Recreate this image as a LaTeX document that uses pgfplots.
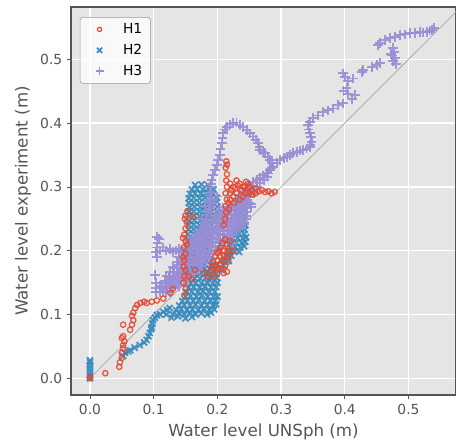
\documentclass[border=0pt]{standalone}
\usepackage{fontspec}
\setmainfont{DejaVu Sans}
\usepackage{pgfplots}
\pgfplotsset{compat=1.18}
\definecolor{panel}{HTML}{E5E5E5}
\definecolor{tickgray}{HTML}{555555}
\definecolor{hone}{HTML}{E24A33}
\definecolor{htwo}{HTML}{348ABD}
\definecolor{hthree}{HTML}{988ED5}
\tikzset{
  hOne/.style={only marks,mark=o,mark size=2pt,hone,line width=1pt,opacity=0.9},
  hTwo/.style={only marks,mark=x,mark size=3.2pt,htwo,line width=1.35pt,opacity=0.9},
  hThree/.style={only marks,mark=+,mark size=3.6pt,hthree,line width=1.4pt,opacity=0.9},
}

\begin{document}
\begin{tikzpicture}
\useasboundingbox (-53.25pt,-36pt) rectangle (288.75pt,296.25pt);
\begin{axis}[
  scale only axis, width=288.75pt, height=291pt,
  at={(0,0)}, anchor=south west,
  xmin=-0.0298, xmax=0.5746, ymin=-0.0262, ymax=0.582,
  xtick={0,0.1,0.2,0.3,0.4,0.5}, ytick={0,0.1,0.2,0.3,0.4,0.5},
  xtick pos=bottom, ytick pos=left,
  tick align=outside, major tick length=3pt,
  axis background/.style={fill=panel},
  grid=major, major grid style={white,line width=1pt},
  axis line style={tickgray,line width=0.8pt},
  tick style={tickgray,line width=0.6pt},
  /pgf/number format/.cd, fixed, fixed zerofill, precision=1, assume math mode=true, /pgfplots/.cd,
  ticklabel style={font=\fontsize{10.4}{12}\selectfont,text=tickgray},
  label style={font=\fontsize{12.5}{15}\selectfont,text=tickgray},
  xlabel={Water level UNSph (m)}, ylabel={Water level experiment (m)},
  legend image code/.code={\path (0pt,0pt) (25pt,0pt); \draw[#1] plot coordinates {(10pt,0pt)};},
  legend style={at={(0.023,0.974)},anchor=north west,fill=white,fill opacity=0.8,text opacity=1,
    draw=gray!80,rounded corners=2pt,font=\fontsize{10.4}{12.5}\selectfont,
    row sep=2.5pt,inner xsep=4pt,inner ysep=2.5pt,nodes={inner sep=2pt}},
  legend cell align=left,
]
\addlegendimage{only marks,mark=o,mark size=1.6pt,hone,line width=0.9pt}
\addlegendentry{H1}
\addlegendimage{only marks,mark=x,mark size=2.8pt,htwo,line width=1.2pt}
\addlegendentry{H2}
\addlegendimage{only marks,mark=+,mark size=3pt,hthree,line width=1.2pt}
\addlegendentry{H3}

\addplot[gray!75,line width=0.5pt,forget plot] coordinates {(0,0)(0.6,0.6)};

% H2
\addplot[hTwo,forget plot] coordinates {
(0,0)(0,0.005)(0,0.01)(0,0.015)(0,0.02)(0,0.025)(0,0.028)
(0.052,0.035)(0.055,0.04)(0.06,0.042)(0.063,0.044)(0.07,0.048)(0.078,0.052)(0.085,0.056)
(0.089,0.06)(0.092,0.066)(0.094,0.071)(0.096,0.077)(0.097,0.08)(0.098,0.086)(0.099,0.091)
(0.102,0.095)(0.105,0.099)(0.11,0.1)(0.115,0.104)(0.121,0.107)(0.125,0.11)(0.12,0.1)
(0.128,0.095)(0.138,0.097)(0.15,0.094)(0.16,0.096)
(0.13,0.1)(0.14,0.102)(0.148,0.1)(0.157,0.103)(0.166,0.1)(0.175,0.102)(0.184,0.1)(0.19,0.103)
(0.135,0.107)(0.143,0.109)(0.152,0.107)(0.161,0.108)(0.17,0.107)(0.179,0.109)(0.188,0.107)(0.195,0.108)
(0.14,0.114)(0.148,0.115)(0.157,0.114)(0.166,0.116)(0.175,0.114)(0.184,0.115)(0.193,0.114)(0.198,0.116)
(0.145,0.121)(0.153,0.122)(0.162,0.121)(0.171,0.123)(0.18,0.121)(0.189,0.122)(0.197,0.121)
(0.15,0.128)(0.158,0.129)(0.167,0.128)(0.176,0.13)(0.185,0.128)(0.194,0.129)(0.2,0.128)
(0.152,0.135)(0.16,0.136)(0.169,0.135)(0.178,0.137)(0.187,0.135)(0.196,0.136)
(0.155,0.142)(0.163,0.143)(0.172,0.142)(0.181,0.144)(0.19,0.142)(0.198,0.143)
(0.158,0.149)(0.166,0.15)(0.175,0.149)(0.184,0.151)(0.193,0.149)(0.2,0.15)
(0.156,0.156)(0.164,0.157)(0.173,0.156)(0.182,0.158)(0.191,0.156)(0.199,0.157)
(0.155,0.163)(0.163,0.164)(0.172,0.163)(0.181,0.165)(0.19,0.163)(0.198,0.164)
(0.154,0.17)(0.162,0.171)(0.171,0.17)(0.18,0.172)(0.189,0.17)(0.198,0.171)(0.206,0.17)
(0.155,0.177)(0.163,0.178)(0.172,0.177)(0.181,0.179)(0.19,0.177)(0.2,0.178)(0.21,0.177)
(0.156,0.184)(0.164,0.185)(0.173,0.184)(0.182,0.186)(0.19,0.184)(0.21,0.185)(0.218,0.184)
(0.155,0.191)(0.163,0.192)(0.172,0.191)(0.181,0.193)(0.215,0.191)(0.222,0.192)
(0.154,0.198)(0.162,0.199)(0.171,0.198)(0.18,0.2)(0.218,0.198)(0.226,0.199)(0.234,0.198)
(0.155,0.205)(0.163,0.206)(0.172,0.205)(0.181,0.207)(0.22,0.205)(0.228,0.206)(0.236,0.205)(0.242,0.207)
(0.156,0.212)(0.164,0.213)(0.173,0.212)(0.182,0.214)(0.222,0.212)(0.23,0.213)(0.238,0.212)(0.244,0.214)
(0.155,0.219)(0.163,0.22)(0.172,0.219)(0.181,0.221)(0.19,0.219)(0.224,0.219)(0.232,0.22)(0.24,0.219)(0.245,0.221)
(0.154,0.226)(0.162,0.227)(0.171,0.226)(0.18,0.228)(0.189,0.226)(0.226,0.226)(0.234,0.227)(0.242,0.226)
(0.155,0.233)(0.163,0.234)(0.172,0.233)(0.181,0.235)(0.19,0.233)(0.228,0.233)(0.236,0.234)(0.243,0.233)
(0.155,0.24)(0.163,0.241)(0.172,0.24)(0.181,0.242)(0.19,0.24)(0.199,0.241)(0.23,0.24)(0.238,0.241)(0.244,0.24)
(0.156,0.247)(0.164,0.248)(0.173,0.247)(0.182,0.249)(0.19,0.247)(0.199,0.248)(0.232,0.247)(0.24,0.248)
(0.155,0.254)(0.163,0.255)(0.172,0.254)(0.181,0.256)(0.19,0.254)(0.199,0.255)(0.234,0.254)(0.242,0.255)
(0.155,0.261)(0.163,0.262)(0.172,0.261)(0.181,0.263)(0.19,0.261)(0.199,0.262)(0.236,0.261)(0.243,0.262)
(0.156,0.268)(0.164,0.269)(0.173,0.268)(0.182,0.27)(0.19,0.268)(0.2,0.269)(0.238,0.268)
(0.155,0.275)(0.163,0.276)(0.172,0.275)(0.181,0.277)(0.19,0.275)(0.199,0.276)
(0.155,0.282)(0.163,0.283)(0.172,0.282)(0.181,0.284)(0.19,0.282)(0.199,0.283)
(0.157,0.289)(0.165,0.29)(0.174,0.289)(0.183,0.291)(0.192,0.289)
(0.16,0.296)(0.168,0.297)(0.177,0.296)(0.186,0.298)(0.194,0.296)
(0.165,0.303)(0.175,0.304)(0.185,0.303)
};

% H3
\addplot[hThree,forget plot] coordinates {
(0.103,0.135)(0.103,0.142)(0.104,0.150)(0.102,0.162)(0.105,0.19)(0.104,0.198)(0.105,0.205)
(0.106,0.212)(0.108,0.218)(0.105,0.222)
(0.11,0.2)(0.115,0.205)(0.12,0.2)(0.125,0.203)(0.13,0.198)(0.135,0.2)(0.14,0.203)(0.145,0.2)
(0.15,0.205)(0.155,0.21)(0.158,0.215)
(0.140,0.145)(0.147,0.152)(0.154,0.159)(0.161,0.166)(0.168,0.173)(0.175,0.180)(0.182,0.187)
(0.189,0.194)(0.196,0.201)(0.203,0.208)(0.210,0.215)(0.217,0.222)(0.224,0.229)(0.231,0.236)
(0.238,0.243)(0.245,0.250)
(0.120,0.135)(0.127,0.142)(0.134,0.149)(0.141,0.156)(0.148,0.163)(0.155,0.170)(0.162,0.177)
(0.169,0.184)(0.176,0.191)(0.183,0.198)(0.190,0.205)(0.197,0.212)(0.204,0.219)(0.211,0.226)
(0.218,0.233)(0.225,0.240)(0.232,0.247)(0.239,0.254)(0.246,0.261)(0.253,0.268)
(0.110,0.135)(0.117,0.142)(0.124,0.149)(0.131,0.156)(0.138,0.163)(0.145,0.170)(0.152,0.177)
(0.159,0.184)(0.166,0.191)(0.173,0.198)(0.180,0.205)(0.187,0.212)(0.194,0.219)(0.201,0.226)
(0.208,0.233)(0.215,0.240)(0.222,0.247)(0.229,0.254)(0.236,0.261)(0.243,0.268)(0.250,0.275)
(0.110,0.145)(0.117,0.152)(0.124,0.159)(0.131,0.166)(0.138,0.173)(0.145,0.180)(0.152,0.187)
(0.159,0.194)(0.166,0.201)(0.173,0.208)(0.180,0.215)(0.187,0.222)(0.194,0.229)(0.201,0.236)
(0.208,0.243)(0.215,0.250)(0.222,0.257)(0.229,0.264)(0.236,0.271)(0.243,0.278)
(0.130,0.175)(0.137,0.182)(0.144,0.189)(0.151,0.196)(0.158,0.203)(0.165,0.210)(0.172,0.217)
(0.179,0.224)(0.186,0.231)(0.193,0.238)(0.200,0.245)(0.207,0.252)(0.214,0.259)(0.221,0.266)
(0.160,0.215)(0.167,0.222)(0.174,0.229)(0.181,0.236)(0.188,0.243)(0.195,0.250)(0.202,0.257)(0.209,0.264)
(0.152,0.152)(0.158,0.158)(0.164,0.164)(0.170,0.170)(0.176,0.176)(0.182,0.182)(0.188,0.188)
(0.194,0.194)(0.200,0.200)(0.206,0.206)(0.212,0.212)(0.218,0.218)(0.224,0.224)(0.230,0.230)
(0.236,0.236)(0.242,0.242)
(0.125,0.135)(0.131,0.141)(0.137,0.147)(0.143,0.153)(0.149,0.159)(0.155,0.165)(0.161,0.171)
(0.167,0.177)(0.173,0.183)(0.179,0.189)(0.185,0.195)(0.191,0.201)(0.197,0.207)(0.203,0.213)
(0.209,0.219)(0.215,0.225)(0.221,0.231)(0.227,0.237)(0.233,0.243)(0.239,0.249)(0.245,0.255)
(0.115,0.135)(0.121,0.141)(0.127,0.147)(0.133,0.153)(0.139,0.159)(0.145,0.165)(0.151,0.171)
(0.157,0.177)(0.163,0.183)(0.169,0.189)(0.175,0.195)(0.181,0.201)(0.187,0.207)(0.193,0.213)
(0.199,0.219)(0.205,0.225)(0.211,0.231)(0.217,0.237)(0.223,0.243)(0.229,0.249)(0.235,0.255)
(0.241,0.261)(0.247,0.267)(0.253,0.273)
(0.113,0.143)(0.119,0.149)(0.125,0.155)(0.131,0.161)(0.137,0.167)(0.143,0.173)(0.149,0.179)
(0.155,0.185)(0.161,0.191)(0.167,0.197)(0.173,0.203)(0.179,0.209)(0.185,0.215)(0.191,0.221)
(0.197,0.227)(0.203,0.233)(0.209,0.239)(0.215,0.245)(0.221,0.251)(0.227,0.257)(0.233,0.263)
(0.239,0.269)(0.245,0.275)
(0.120,0.160)(0.126,0.166)(0.132,0.172)(0.138,0.178)(0.144,0.184)(0.150,0.190)(0.156,0.196)
(0.162,0.202)(0.168,0.208)(0.174,0.214)(0.180,0.220)(0.186,0.226)(0.192,0.232)(0.198,0.238)
(0.204,0.244)(0.210,0.250)(0.216,0.256)(0.222,0.262)(0.228,0.268)(0.234,0.274)
(0.140,0.190)(0.146,0.196)(0.152,0.202)(0.158,0.208)(0.164,0.214)(0.170,0.220)(0.176,0.226)
(0.182,0.232)(0.188,0.238)(0.194,0.244)(0.200,0.250)(0.206,0.256)(0.212,0.262)(0.218,0.268)
(0.224,0.274)
(0.160,0.220)(0.166,0.226)(0.172,0.232)(0.178,0.238)(0.184,0.244)(0.190,0.250)(0.196,0.256)
(0.202,0.262)(0.208,0.268)
(0.172,0.21)(0.175,0.22)(0.178,0.23)(0.176,0.25)(0.18,0.24)(0.182,0.25)(0.185,0.26)(0.187,0.27)
(0.19,0.28)(0.188,0.29)(0.18,0.27)(0.185,0.28)(0.19,0.29)(0.195,0.275)(0.2,0.285)(0.183,0.26)(0.188,0.265)
(0.245,0.29)(0.25,0.295)(0.255,0.3)(0.24,0.285)(0.235,0.28)(0.23,0.27)(0.25,0.285)(0.258,0.29)
(0.225,0.212)
(0.188,0.300)(0.190,0.305)(0.191,0.311)(0.193,0.319)(0.196,0.327)(0.199,0.334)(0.201,0.342)
(0.204,0.350)(0.205,0.36)(0.207,0.369)(0.208,0.377)(0.209,0.384)(0.212,0.390)(0.215,0.394)
(0.220,0.398)(0.225,0.400)(0.230,0.401)(0.235,0.397)(0.240,0.394)(0.246,0.389)(0.251,0.384)
(0.256,0.379)(0.260,0.374)(0.264,0.369)(0.266,0.363)(0.267,0.358)(0.271,0.355)(0.275,0.353)
(0.279,0.347)(0.283,0.342)(0.286,0.337)(0.287,0.332)(0.285,0.329)(0.283,0.327)(0.280,0.321)
(0.278,0.316)(0.273,0.311)(0.267,0.306)(0.262,0.300)(0.256,0.295)(0.251,0.290)(0.246,0.285)
(0.241,0.280)(0.235,0.275)(0.230,0.264)(0.226,0.258)
(0.228,0.276)(0.232,0.281)(0.236,0.287)(0.240,0.292)(0.245,0.298)(0.250,0.303)(0.256,0.308)
(0.262,0.311)(0.267,0.314)(0.272,0.318)(0.278,0.322)(0.282,0.327)(0.287,0.332)(0.293,0.337)
(0.298,0.342)(0.304,0.345)(0.309,0.347)(0.314,0.350)(0.319,0.353)(0.325,0.355)(0.330,0.357)
(0.335,0.358)(0.340,0.360)(0.345,0.362)(0.346,0.366)(0.348,0.371)(0.347,0.378)(0.345,0.385)
(0.343,0.390)(0.342,0.397)(0.345,0.402)(0.350,0.408)(0.358,0.412)(0.366,0.417)(0.373,0.420)
(0.381,0.423)(0.390,0.428)(0.397,0.431)(0.412,0.438)(0.416,0.444)(0.405,0.445)(0.398,0.450)
(0.403,0.455)(0.400,0.472)(0.397,0.478)(0.405,0.466)(0.413,0.470)
(0.427,0.480)(0.429,0.483)(0.443,0.488)(0.450,0.491)(0.455,0.494)
(0.476,0.518)(0.478,0.512)(0.474,0.506)(0.479,0.502)(0.476,0.497)(0.480,0.493)(0.473,0.509)
(0.452,0.522)(0.455,0.526)(0.463,0.530)(0.471,0.533)(0.479,0.535)(0.487,0.538)(0.495,0.539)
(0.502,0.541)(0.510,0.541)(0.518,0.543)(0.523,0.542)(0.529,0.543)(0.533,0.545)(0.537,0.546)
(0.540,0.549)
};

% H1
\addplot[hOne,forget plot] coordinates {
(0,0)(0,0.002)
(0.024,0.008)(0.046,0.018)(0.047,0.025)(0.05,0.032)(0.05,0.04)(0.052,0.047)(0.052,0.052)
(0.054,0.058)(0.05,0.063)(0.052,0.066)(0.052,0.084)(0.063,0.076)(0.066,0.084)(0.068,0.091)
(0.066,0.098)(0.068,0.103)(0.071,0.11)(0.074,0.115)(0.079,0.118)(0.085,0.12)(0.089,0.118)
(0.097,0.12)(0.105,0.122)(0.115,0.125)(0.126,0.134)(0.13,0.14)
(0.148,0.13)(0.15,0.14)(0.147,0.15)(0.148,0.16)(0.15,0.17)(0.147,0.175)(0.148,0.185)
(0.15,0.195)(0.147,0.205)(0.15,0.215)(0.148,0.225)(0.15,0.235)(0.152,0.245)(0.15,0.255)
(0.153,0.262)(0.162,0.253)(0.146,0.19)(0.146,0.22)(0.149,0.25)(0.152,0.21)
(0.155,0.16)(0.16,0.155)(0.165,0.17)(0.18,0.165)(0.185,0.16)
(0.19,0.17)(0.195,0.175)(0.2,0.172)(0.205,0.18)(0.21,0.185)(0.215,0.19)(0.22,0.195)
(0.225,0.2)(0.21,0.2)(0.205,0.19)(0.2,0.185)(0.215,0.21)(0.22,0.215)(0.2,0.165)(0.195,0.16)
(0.205,0.205)(0.212,0.218)(0.198,0.178)(0.193,0.182)(0.196,0.19)(0.2,0.197)(0.206,0.172)
(0.212,0.176)(0.217,0.183)(0.21,0.193)(0.203,0.2)(0.216,0.2)(0.192,0.175)(0.208,0.212)
(0.21,0.165)(0.215,0.167)
(0.21,0.24)(0.212,0.25)(0.214,0.26)(0.213,0.27)(0.215,0.28)(0.213,0.29)(0.215,0.3)
(0.214,0.31)(0.215,0.32)(0.213,0.33)(0.215,0.335)(0.214,0.34)(0.218,0.265)(0.217,0.275)
(0.22,0.305)(0.225,0.3)(0.23,0.31)(0.235,0.305)(0.24,0.3)(0.245,0.308)(0.25,0.3)
(0.255,0.295)(0.26,0.298)(0.265,0.293)(0.27,0.295)(0.275,0.292)(0.28,0.293)(0.285,0.29)
(0.29,0.292)(0.22,0.29)(0.225,0.285)(0.23,0.29)(0.235,0.28)(0.24,0.285)(0.245,0.29)
(0.25,0.29)(0.255,0.288)(0.26,0.29)(0.222,0.295)(0.228,0.298)(0.232,0.302)(0.238,0.295)
(0.243,0.3)(0.248,0.305)(0.22,0.28)(0.226,0.275)
};
\end{axis}
\end{tikzpicture}
\end{document}
